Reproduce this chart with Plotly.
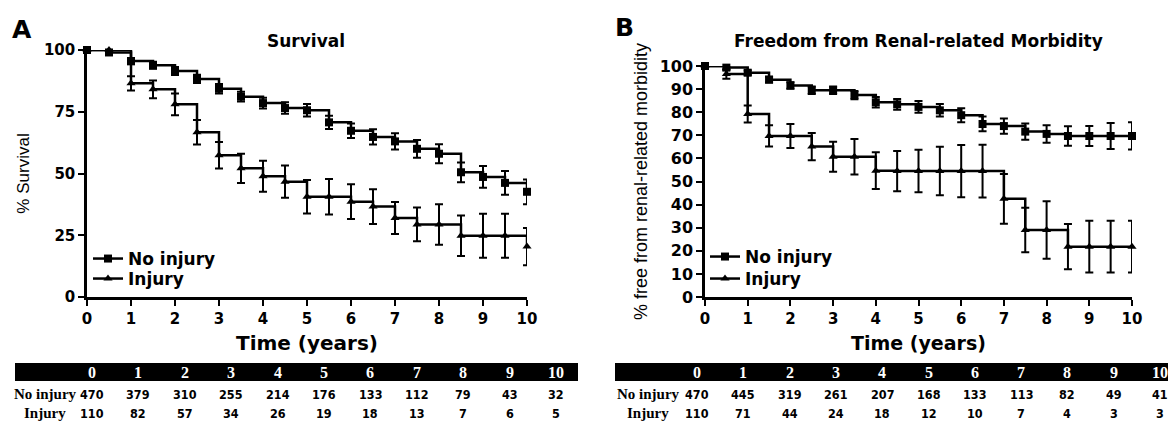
import plotly.graph_objects as go

W, H = 1168, 424

# ---------------- data ----------------
years = [0, 0.5, 1, 1.5, 2, 2.5, 3, 3.5, 4, 4.5, 5, 5.5, 6, 6.5, 7, 7.5, 8, 8.5, 9, 9.5, 10]

surv_noinj = [100, 99, 95.5, 93.8, 91.5, 88.3, 84.3, 81.1, 78.5, 76.5, 75.6, 70.7, 67.3, 64.8, 63, 60, 58, 50.5, 48.6, 46.2, 42.6]
surv_noinj_err = [0, 0.6, 1.3, 1.4, 1.6, 1.7, 1.9, 2.0, 2.2, 2.3, 2.5, 2.7, 2.9, 3.1, 3.3, 3.6, 3.8, 4.0, 4.4, 4.8, 5.0]
surv_inj = [100, 100, 86.5, 84.1, 78, 66.7, 57.4, 52.1, 48.9, 46.7, 40.6, 40.6, 38.6, 36.6, 32, 29.4, 29.4, 24.8, 24.8, 24.8, 20.4]
surv_inj_err = [0, 0, 2.9, 3.6, 4.4, 5, 5.4, 5.9, 6.3, 6.5, 6.8, 7.2, 7.0, 7.0, 6.5, 6.8, 8.2, 8.2, 8.9, 8.9, 7.5]

renal_noinj = [100, 99.3, 97.1, 94.1, 91.6, 89.5, 89.5, 87.4, 84.3, 83.4, 82.3, 80.8, 78.7, 74.9, 74, 71.6, 70.6, 69.7, 69.7, 69.7, 69.7]
renal_noinj_err = [0, 0.8, 1.0, 1.2, 1.4, 1.6, 1.6, 1.8, 2.3, 2.3, 2.5, 2.7, 3.0, 3.2, 3.3, 3.5, 3.8, 4.2, 4.3, 5.6, 5.9]
renal_inj = [100, 96.5, 79.2, 69.7, 69.7, 65.1, 60.7, 60.7, 54.7, 54.5, 54.5, 54.5, 54.5, 54.5, 42.5, 29, 29, 21.8, 21.8, 21.8, 21.8]
renal_inj_err = [0, 2, 3.7, 4.6, 5.2, 5.9, 6.5, 7.7, 8.0, 8.7, 9.2, 10.5, 11.3, 11.4, 10.8, 9.6, 12.4, 9.8, 11.2, 11.2, 11.2]

table_years = ["0", "1", "2", "3", "4", "5", "6", "7", "8", "9", "10"]
surv_risk_noinj = [470, 379, 310, 255, 214, 176, 133, 112, 79, 43, 32]
surv_risk_inj = [110, 82, 57, 34, 26, 19, 18, 13, 7, 6, 5]
renal_risk_noinj = [470, 445, 319, 261, 207, 168, 133, 113, 82, 49, 41]
renal_risk_inj = [110, 71, 44, 24, 18, 12, 10, 7, 4, 3, 3]

# ---------------- helpers ----------------
def fx(p):
    return p / W

def fy(p):
    return 1 - p / H

SANS = "DejaVu Sans"
ARIAL = "Liberation Sans"
SERIF = "Liberation Serif"
NARROW = "DejaVu Sans Condensed"

fig = go.Figure()

def add_series(x, y, err, name, symbol, xa, ya, legend):
    fig.add_trace(go.Scatter(
        x=x, y=y, name=name, mode="lines+markers",
        line=dict(shape="hv", color="black", width=2.5),
        marker=dict(symbol=symbol, size=8, color="black"),
        error_y=dict(type="data", array=err, color="black", thickness=2, width=4),
        xaxis=xa, yaxis=ya, legend=legend, cliponaxis=False,
    ))

add_series(years, surv_noinj, surv_noinj_err, "No injury", "square", "x", "y", "legend")
add_series(years, surv_inj, surv_inj_err, "Injury", "triangle-up", "x", "y", "legend2")
add_series(years, renal_noinj, renal_noinj_err, "No injury", "square", "x2", "y2", "legend3")
add_series(years, renal_inj, renal_inj_err, "Injury", "triangle-up", "x2", "y2", "legend4")

axis_common = dict(
    showline=True, linewidth=2.5, linecolor="black", mirror=False,
    ticks="outside", ticklen=6, tickwidth=2, tickcolor="black",
    showgrid=False, zeroline=False, automargin=False,
)

xt = dict(tickmode="array", tickvals=list(range(11)), ticktext=[str(i) for i in range(11)])

def leg(xp, yp):
    return dict(x=fx(xp), y=fy(yp), xanchor="left", yanchor="middle",
                bgcolor="rgba(0,0,0,0)", itemwidth=30, tracegroupgap=0,
                borderwidth=0,
                font=dict(family=SANS, size=17, color="black", weight="bold"))

fig.update_layout(
    width=W, height=H,
    margin=dict(l=0, r=0, t=0, b=0, autoexpand=False),
    paper_bgcolor="white", plot_bgcolor="white",
    xaxis=dict(domain=[fx(87), fx(527)], range=[0, 10], anchor="y", **xt, **axis_common,
               tickfont=dict(family=SANS, size=15, color="black", weight="bold"),
               title=dict(text="Time (years)", standoff=10,
                          font=dict(family=SANS, size=20, color="black", weight="bold"))),
    yaxis=dict(domain=[fy(297), fy(50)], range=[0, 100], anchor="x",
               tickmode="array", tickvals=[0, 25, 50, 75, 100], **axis_common,
               tickfont=dict(family=SANS, size=15, color="black", weight="bold"),
               title=dict(text="% Survival", standoff=10,
                          font=dict(family=ARIAL, size=17, color="black"))),
    xaxis2=dict(domain=[fx(705), fx(1132)], range=[0, 10], anchor="y2", **xt, **axis_common,
                tickfont=dict(family=SANS, size=15, color="black", weight="bold"),
                title=dict(text="Time (years)", standoff=10,
                           font=dict(family=SANS, size=19, color="black", weight="bold"))),
    yaxis2=dict(domain=[fy(297), fy(66)], range=[0, 100], anchor="x2",
                tickmode="array", tickvals=list(range(0, 101, 10)), **axis_common,
                tickfont=dict(family=SANS, size=16, color="black", weight="bold"),
                title=dict(text="% free from renal-related morbidity", standoff=8,
                           font=dict(family=ARIAL, size=18, color="black"))),
    legend=leg(88, 259),
    legend2=leg(88, 279),
    legend3=leg(705, 257),
    legend4=leg(705, 279),
    showlegend=True,
)

ann = []
# panel letters and titles
ann.append(dict(text="A", x=fx(22), y=fy(29), font=dict(family=SANS, size=25, color="black", weight="bold")))
ann.append(dict(text="B", x=fx(624), y=fy(28), font=dict(family=SANS, size=25, color="black", weight="bold")))
ann.append(dict(text="Survival", x=fx(306), y=fy(41), font=dict(family=SANS, size=17, color="black", weight="bold")))
ann.append(dict(text="Freedom from Renal-related Morbidity", x=fx(918), y=fy(41),
                font=dict(family=SANS, size=17, color="black", weight="bold")))

shapes = [
    dict(type="rect", xref="paper", yref="paper", x0=fx(15), x1=fx(578), y0=fy(381), y1=fy(363),
         fillcolor="black", line=dict(width=0), layer="below"),
    dict(type="rect", xref="paper", yref="paper", x0=fx(615), x1=fx(1168), y0=fy(381), y1=fy(363),
         fillcolor="black", line=dict(width=0), layer="below"),
]

def table(x0, dx, lab_x, noinj, inj):
    for i, t in enumerate(table_years):
        cx = x0 + dx * i
        ann.append(dict(text=t, x=fx(cx), y=fy(372),
                        font=dict(family=SERIF, size=16, color="white", weight="bold")))
        ann.append(dict(text=str(noinj[i]), x=fx(cx), y=fy(394),
                        font=dict(family=NARROW, size=12.5, color="black", weight="bold")))
        ann.append(dict(text=str(inj[i]), x=fx(cx), y=fy(413),
                        font=dict(family=NARROW, size=12.5, color="black", weight="bold")))
    ann.append(dict(text="No injury", x=fx(lab_x), y=fy(394),
                    font=dict(family=SERIF, size=15, color="black", weight="bold")))
    ann.append(dict(text="Injury", x=fx(lab_x), y=fy(413),
                    font=dict(family=SERIF, size=15, color="black", weight="bold")))

table(92, 46.4, 45, surv_risk_noinj, surv_risk_inj)
table(697, 46.3, 648, renal_risk_noinj, renal_risk_inj)

for a in ann:
    a.update(xref="paper", yref="paper", showarrow=False, xanchor="center", yanchor="middle")

fig.update_layout(annotations=ann, shapes=shapes)
fig.write_html("out.html", include_plotlyjs=True,
               config={"displayModeBar": False},
               post_script="document.body.style.margin='0';document.body.style.overflow='hidden';")
